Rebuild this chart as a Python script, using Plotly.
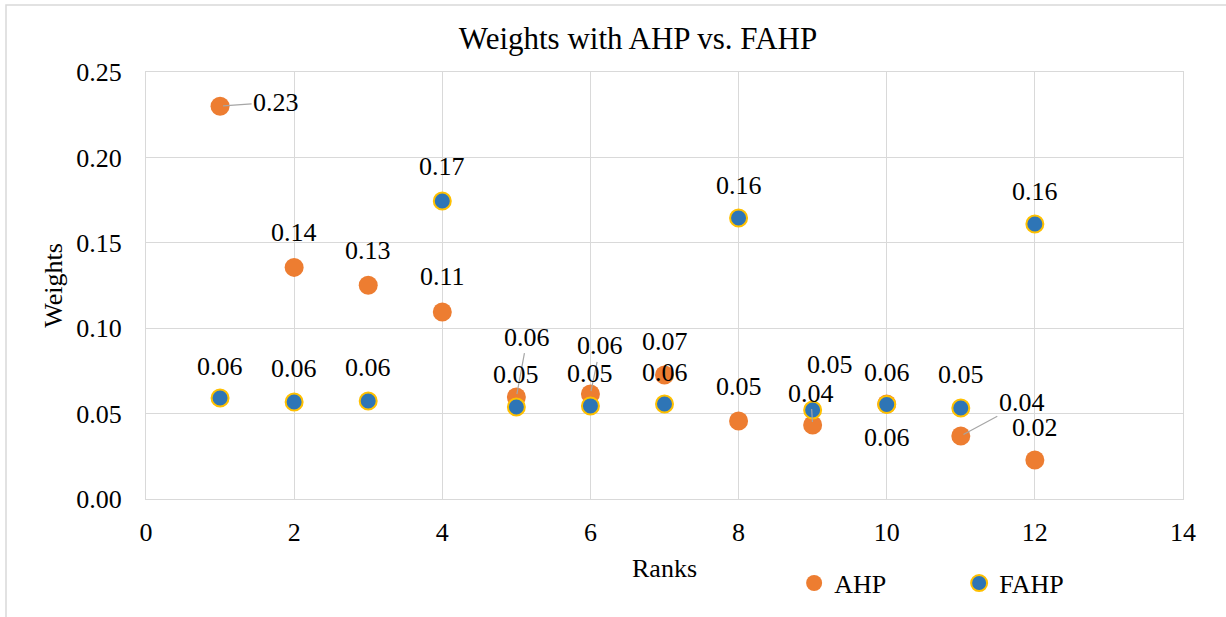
import plotly.graph_objects as go

ranks = [1, 2, 3, 4, 5, 6, 7, 8, 9, 10, 11, 12]
ahp = [0.230, 0.1356, 0.1252, 0.1095, 0.0597, 0.0615, 0.0726, 0.0457, 0.0433, 0.0556, 0.0369, 0.0228]
fahp = [0.0591, 0.0568, 0.0574, 0.1745, 0.0539, 0.0545, 0.0556, 0.1645, 0.0521, 0.0553, 0.0533, 0.161]

# label placement (pixel offsets from the point, +dy = down) and leader-line flags
ahp_dx = [56, 0, 0, 0, 11, 10, 0, 0, -2, 0, 61, 0]
ahp_dy = [-4, -35, -35, -35, -60, -48, -34, -34, -32, 33, -33, -33]
ahp_leader = [True, False, False, False, True, True, False, False, True, False, True, False]
fahp_dx = [0, 0, 0, 0, 0, 0, 0, 0, 17, 0, 0, 0]
fahp_dy = [-32, -33, -33, -34, -32, -32, -32, -33, -46, -32, -33, -33]

FONT = "Liberation Serif, Times New Roman, serif"
ORANGE = "#ED7D31"
BLUE = "#2E75B6"
GOLD = "#FFC000"
GRID = "#D9D9D9"

fig = go.Figure()
fig.add_trace(go.Scatter(
    x=ranks, y=ahp, mode="markers", name="AHP",
    marker=dict(size=19, color=ORANGE, line=dict(width=0)),
))
fig.add_trace(go.Scatter(
    x=ranks, y=fahp, mode="markers", name="FAHP",
    marker=dict(size=17, color=BLUE, line=dict(width=2, color=GOLD)),
))

annotations = []
def add_labels(vals, dxs, dys, leaders):
    for x, v, dx, dy, ld in zip(ranks, vals, dxs, dys, leaders):
        txt = f"{v:.2f}"
        if ld:
            annotations.append(dict(
                x=x, y=v, xref="x", yref="y", text=txt, showarrow=True,
                ax=dx, ay=dy, arrowhead=0, arrowwidth=1.2, arrowcolor="#A6A6A6",
                standoff=3, font=dict(family=FONT, size=26, color="#000000")))
        else:
            annotations.append(dict(
                x=x, y=v, xref="x", yref="y", text=txt, showarrow=False,
                xshift=dx, yshift=-dy, font=dict(family=FONT, size=26, color="#000000")))

add_labels(ahp, ahp_dx, ahp_dy, ahp_leader)
add_labels(fahp, fahp_dx, fahp_dy, [False] * len(fahp))

fig.update_layout(
    width=1226, height=617,
    margin=dict(l=146, r=43, t=72, b=118, autoexpand=False),
    paper_bgcolor="white", plot_bgcolor="white",
    font=dict(family=FONT, size=26, color="#000000"),
    title=dict(text="Weights with AHP vs. FAHP", x=0.4745, xref="paper", xanchor="center",
               y=1 - 38 / 617, yref="container", yanchor="middle",
               font=dict(family=FONT, size=31, color="#000000")),
    xaxis=dict(range=[0, 14], dtick=2, tick0=0, showgrid=True, gridcolor=GRID, gridwidth=1,
               showline=True, linecolor=GRID, mirror=True, zeroline=False,
               ticks="", ticklabelstandoff=10,
               tickfont=dict(family=FONT, size=26, color="#000000"),
               title=dict(text="Ranks", standoff=12, font=dict(family=FONT, size=26, color="#000000"))),
    yaxis=dict(range=[0, 0.25], dtick=0.05, tick0=0, tickformat=".2f", showgrid=True,
               gridcolor=GRID, gridwidth=1, showline=True, linecolor=GRID, mirror=True,
               zeroline=False, ticks="", ticklabelstandoff=18,
               tickfont=dict(family=FONT, size=26, color="#000000"),
               title=dict(text="Weights", standoff=6, font=dict(family=FONT, size=26, color="#000000"))),
    legend=dict(orientation="h", x=0.625, xanchor="left", y=-0.197, yanchor="middle",
                font=dict(family=FONT, size=26, color="#000000"), entrywidth=120,
                bgcolor="rgba(0,0,0,0)"),
    annotations=annotations,
    shapes=[dict(type="rect", xref="paper", yref="paper",
                 x0=(6 - 146) / 1037, x1=(1240 - 146) / 1037,
                 y0=(499 - 630) / 427, y1=(499 - 5) / 427,
                 line=dict(color=GRID, width=1.5), layer="below")],
)

fig.write_html("out.html")
